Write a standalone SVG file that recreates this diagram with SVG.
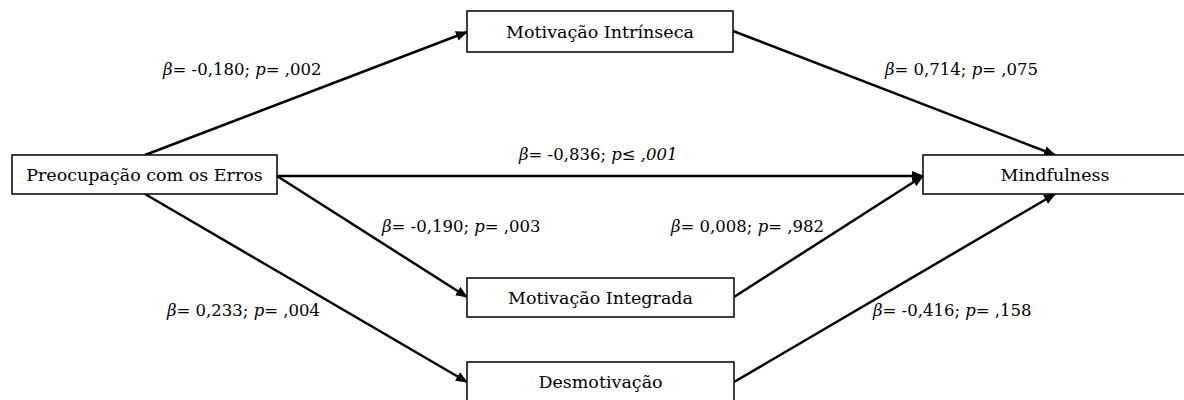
<svg xmlns="http://www.w3.org/2000/svg" width="1184" height="400" viewBox="0 0 1184 400">
<defs>
<marker id="ah" markerWidth="12" markerHeight="10" refX="11" refY="5" orient="auto" markerUnits="userSpaceOnUse">
<path d="M0,0 L12,5 L0,10 Z" fill="#000"/>
</marker>
<style>
.box{fill:#fff;stroke:#000;stroke-width:1.5}
.nt{font-family:'DejaVu Serif',serif;font-size:17.5px;fill:#000;text-anchor:middle}
.lb{font-family:'DejaVu Serif',serif;font-size:16.5px;fill:#000}
.c{stroke:#000;stroke-width:2.5;fill:none;marker-end:url(#ah)}
</style>
</defs>
<rect width="1184" height="400" fill="#fff"/>
<g id="connectors">
<line class="c" x1="145" y1="155" x2="467" y2="32"/>
<line class="c" x1="733" y1="31" x2="1055" y2="155"/>
<line class="c" x1="277" y1="176" x2="923" y2="176"/>
<line class="c" x1="277" y1="176" x2="467" y2="297"/>
<line class="c" x1="145" y1="194" x2="467" y2="382"/>
<line class="c" x1="734" y1="297" x2="923" y2="176"/>
<line class="c" x1="734" y1="382" x2="1055" y2="194"/>
</g>
<g id="labels">
<text class="lb" x="163" y="75"><tspan font-style="italic">β</tspan>= -0,180; <tspan font-style="italic">p</tspan>= ,002</text>
<text class="lb" x="885" y="75"><tspan font-style="italic">β</tspan>= 0,714; <tspan font-style="italic">p</tspan>= ,075</text>
<text class="lb" x="519" y="160"><tspan font-style="italic">β</tspan>= -0,836; <tspan font-style="italic">p≤ ,001</tspan></text>
<text class="lb" x="382" y="232"><tspan font-style="italic">β</tspan>= -0,190; <tspan font-style="italic">p</tspan>= ,003</text>
<text class="lb" x="671" y="232"><tspan font-style="italic">β</tspan>= 0,008; <tspan font-style="italic">p</tspan>= ,982</text>
<text class="lb" x="167" y="316"><tspan font-style="italic">β</tspan>= 0,233; <tspan font-style="italic">p</tspan>= ,004</text>
<text class="lb" x="873" y="316"><tspan font-style="italic">β</tspan>= -0,416; <tspan font-style="italic">p</tspan>= ,158</text>
</g>
<g id="node-preocupacao">
<rect class="box" x="12" y="155" width="265" height="39"/>
<text class="nt" x="144.5" y="181">Preocupação com os Erros</text>
</g>
<g id="node-intrinseca">
<rect class="box" x="467" y="11" width="266" height="41"/>
<text class="nt" x="600" y="38">Motivação Intrínseca</text>
</g>
<g id="node-mindfulness">
<rect class="box" x="923" y="155" width="266" height="39"/>
<text class="nt" x="1055" y="181">Mindfulness</text>
</g>
<g id="node-integrada">
<rect class="box" x="467" y="278" width="267" height="39"/>
<text class="nt" x="600.5" y="304">Motivação Integrada</text>
</g>
<g id="node-desmotivacao">
<rect class="box" x="467" y="362" width="267" height="42"/>
<text class="nt" x="600.5" y="388">Desmotivação</text>
</g>
</svg>
